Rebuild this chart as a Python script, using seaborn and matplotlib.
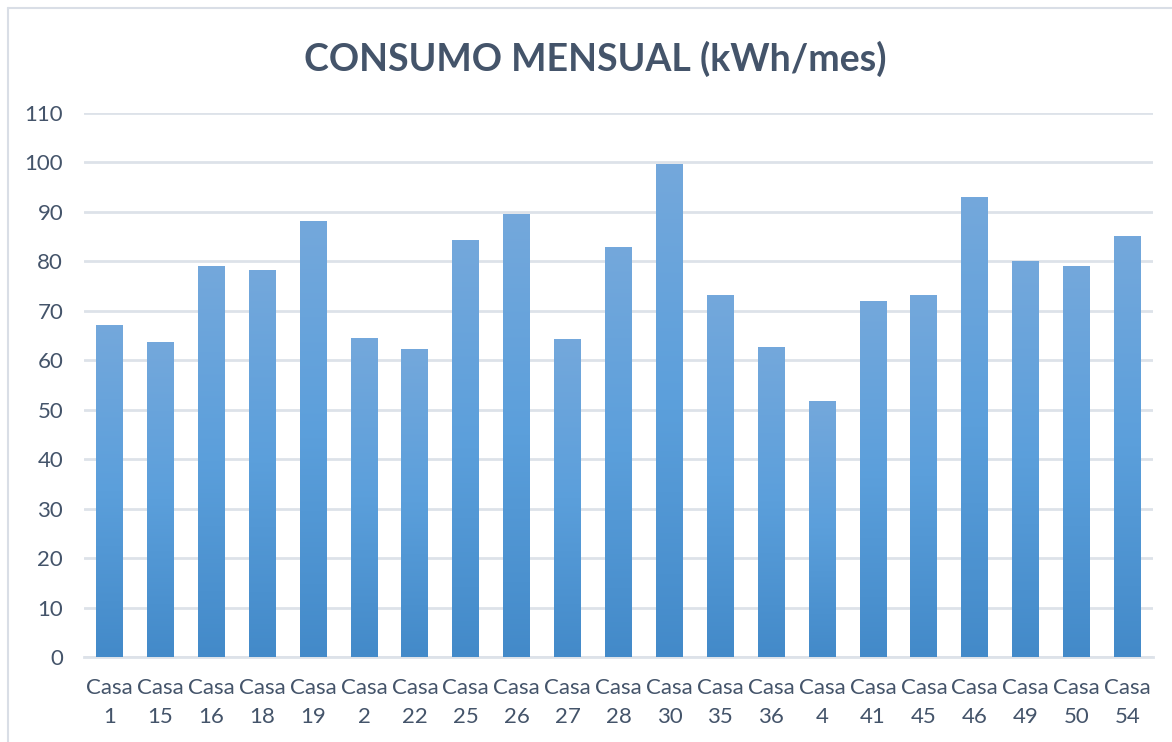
import numpy as np
import pandas as pd
import matplotlib
matplotlib.use("Agg")
import matplotlib.pyplot as plt
import seaborn as sns
from matplotlib.colors import LinearSegmentedColormap
from matplotlib.lines import Line2D

# datos
casas = ["1", "15", "16", "18", "19", "2", "22", "25", "26", "27", "28",
         "30", "35", "36", "4", "41", "45", "46", "49", "50", "54"]
consumo = [67.1, 63.7, 79.1, 78.3, 88.2, 64.5, 62.3, 84.3, 89.6, 64.3, 82.9,
           99.7, 73.2, 62.7, 51.8, 72.0, 73.2, 93.0, 80.1, 79.1, 85.1]
yticks = list(range(0, 111, 10))

tabela = pd.DataFrame({"casa": ["Casa\n" + c for c in casas], "kwh": consumo})

sns.set_theme(style="white")
plt.rcParams["font.family"] = ["Lato", "DejaVu Sans"]

texto = "#44546A"
grade = "#DDE2E9"

fig = plt.figure(figsize=(11.72, 7.42), dpi=100)
ax = fig.add_axes([0.0717, 0.1146, 0.9121, 0.7331])

sns.barplot(data=tabela, x="casa", y="kwh", color="#5B9BD5", width=0.53,
            saturation=1, ax=ax, zorder=3)

# degradado vertical en cada barra (mas claro arriba)
cmap = LinearSegmentedColormap.from_list("g", ["#438AC9", "#5B9FDB", "#74A8DC"])
grad = np.linspace(0, 1, 256).reshape(-1, 1)
for p in ax.patches:
    x0, y0 = p.get_x(), p.get_y()
    w, h = p.get_width(), p.get_height()
    im = ax.imshow(grad, cmap=cmap, origin="lower", aspect="auto",
                   extent=[x0, x0 + w, y0, y0 + h], zorder=4)
    im.set_clip_path(p)
    p.set_facecolor("none")
    p.set_edgecolor("none")

ax.set_xlim(-0.5, len(casas) - 0.5)
ax.set_ylim(0, 110)
ax.set_yticks(yticks)
ax.set_yticklabels([str(v) for v in yticks])
ax.yaxis.grid(True, color=grade, linewidth=2, zorder=0)
ax.set_axisbelow(True)
for s in ["top", "right", "left"]:
    ax.spines[s].set_visible(False)
ax.spines["bottom"].set_color(grade)
ax.spines["bottom"].set_linewidth(2)
ax.tick_params(axis="y", length=0, pad=15, labelsize=16, labelcolor=texto)
ax.tick_params(axis="x", length=0, pad=15, labelsize=16, labelcolor=texto)
for t in ax.get_xticklabels():
    t.set_linespacing(1.6)
    t.set_horizontalalignment("center")
ax.set_xlabel("")
ax.set_ylabel("")

fig.text(0.508, 0.921, "CONSUMO MENSUAL (kWh/mes)", ha="center", va="center",
         fontsize=27, fontweight="bold", color=texto)

# borde del area del grafico (solo arriba e izquierda visibles)
borde = "#D9DEE6"
fig.add_artist(Line2D([0.0065, 1.0], [0.9895, 0.9895], color=borde, lw=1.5,
                      transform=fig.transFigure))
fig.add_artist(Line2D([0.0065, 0.0065], [0.0, 0.9895], color=borde, lw=1.5,
                      transform=fig.transFigure))

fig.savefig("out.png", dpi=100)
